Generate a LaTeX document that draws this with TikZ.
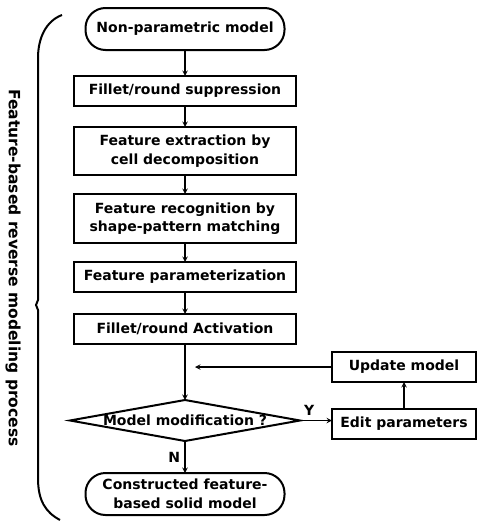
\documentclass[tikz,border=0pt]{standalone}
\usepackage{fontspec}
\setmainfont{DejaVu Sans}
\usetikzlibrary{shapes.geometric, arrows, positioning}

\begin{document}
\begin{tikzpicture}[
    x=1pt, y=1pt,
    every node/.style={font=\fontsize{14}{18.5}\selectfont\bfseries},
    terminal/.style={rectangle, rounded corners=20pt, minimum width=199pt, minimum height=42pt,
                     align=center, draw=black, line width=2pt, inner sep=1pt, outer sep=0pt},
    stepbox/.style={rectangle, minimum width=222pt, minimum height=30pt,
                    align=center, draw=black, line width=2pt, inner sep=1pt, outer sep=0pt},
    sidebox/.style={rectangle, minimum width=144pt, minimum height=30pt,
                    align=center, draw=black, line width=2pt, inner sep=1pt, outer sep=0pt},
    decision/.style={diamond, aspect=5.6, minimum width=230pt, minimum height=41pt,
                     inner sep=0pt, outer sep=0pt, draw=black, line width=2pt},
    arrow/.style={->, >=stealth, line width=1.4pt}
]
\useasboundingbox (0,0) rectangle (477,-522);

% Main flow
\node (start) [terminal] at (185,-29) {Non-parametric model};
\node (suppress) [stepbox, below=26pt of start] {Fillet/round suppression};
\node (extract) [stepbox, minimum height=48pt, below=21pt of suppress] {Feature extraction by\\cell decomposition};
\node (recog) [stepbox, minimum height=49pt, below=19pt of extract] {Feature recognition by\\shape-pattern matching};
\node (param) [stepbox, below=19pt of recog] {Feature parameterization};
\node (activ) [stepbox, below=22pt of param] {Fillet/round Activation};
\node (modif) [decision, below=56pt of activ] {\makebox[0pt]{Model modification ?}};
\node (result) [terminal, below=32pt of modif] {Constructed feature-\\based solid model};

% Loop back
\node (edit) [sidebox, anchor=west] at (332,-424) {Edit parameters};
\node (update) [sidebox, above=27pt of edit] {Update model};
\coordinate (join) at (activ.south |- update.west);

% Brace and label
\draw [line width=2pt] (62,-15) .. controls (46,-21) and (38,-38) .. (38,-58)
    -- (38,-300) -- (36,-305) -- (38,-310) -- (38,-478)
    .. controls (38,-500) and (45,-512) .. (60,-520);
\node (title) [rotate=-90, font=\fontsize{15.5}{18}\selectfont\bfseries] at (13,-268) {Feature-based reverse modeling process};

% Arrows
\draw [arrow] (start) -- (suppress);
\draw [arrow] (suppress) -- (extract);
\draw [arrow] (extract) -- (recog);
\draw [arrow] (recog) -- (param);
\draw [arrow] (param) -- (activ);
\draw [arrow] (activ) -- (modif);
\draw [arrow] (modif) -- node[left=1pt] {N} (result);
\draw [arrow] (modif.east) -- node[above right=1pt and 0pt, pos=0] {Y} (edit.west |- modif.east);
\draw [arrow] (edit) -- (update);
\draw [arrow] (update.west) -- ([xshift=10pt]join);

\end{tikzpicture}
\end{document}
